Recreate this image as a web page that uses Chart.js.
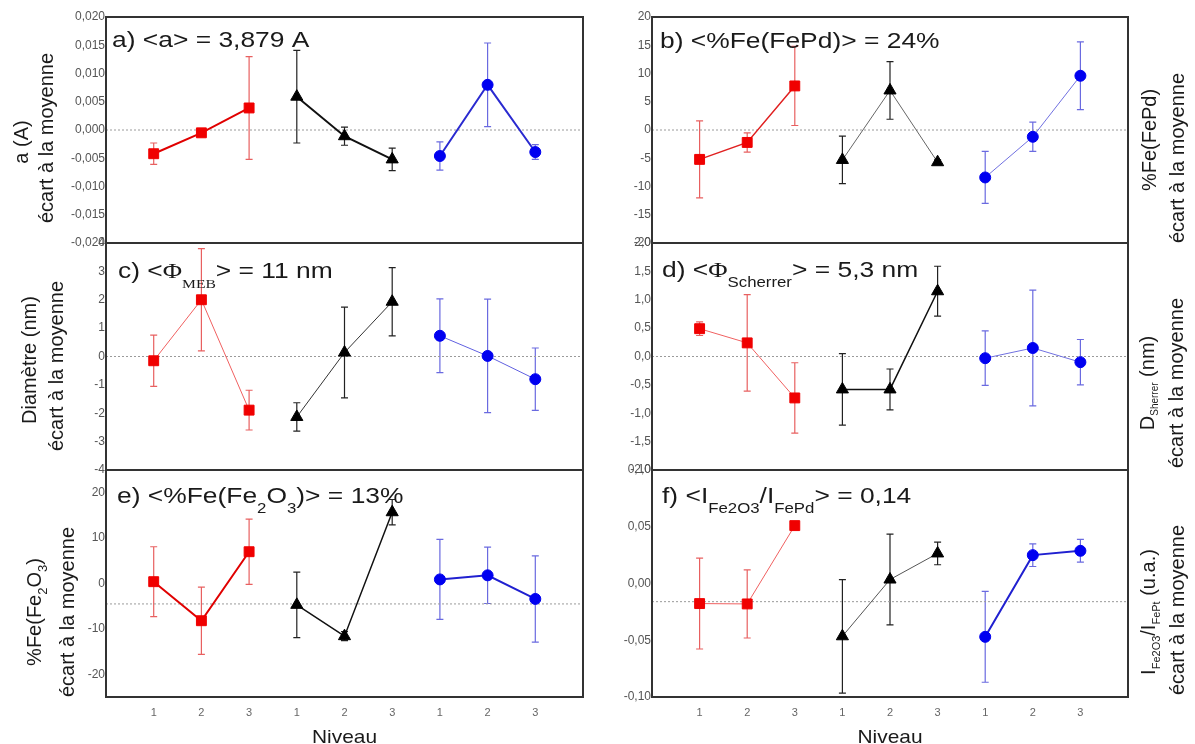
<!DOCTYPE html>
<html>
<head>
<meta charset="utf-8">
<script src="https://cdn.jsdelivr.net/npm/chart.js@4.4.0/dist/chart.umd.min.js"></script>
<style>
html, body { margin: 0; padding: 0; background: #fff; overflow: hidden; }
#wrap { position: relative; width: 1195px; height: 744px; }
#wrap canvas { position: absolute; }
</style>
</head>
<body>
<div id="wrap"></div>
<script>
// tick labels under each group
var niveaux = ['1', '2', '3'];

// a) parametre de maille, ecart a la moyenne (red, black, blue groups)
var aVal = [[-0.0042, -0.0005, 0.0039], [0.0059, -0.0011, -0.0052], [-0.0046, 0.0080, -0.0039]];
var aErr = [[0.0019, 0.0005, 0.0091], [0.0082, 0.0016, 0.0020], [0.0025, 0.0074, 0.0013]];
var aTicks = [-0.020, -0.015, -0.010, -0.005, 0, 0.005, 0.010, 0.015, 0.020];
var aRef = 0;

// b) %Fe(FePd)
var bVal = [[-5.2, -2.2, 7.8], [-5.3, 7.0, -5.7], [-8.4, -1.2, 9.6]];
var bErr = [[6.8, 1.7, 7.0], [4.2, 5.1, 0.4], [4.6, 2.6, 6.0]];
var bTicks = [-20, -15, -10, -5, 0, 5, 10, 15, 20];
var bRef = 0;

// c) diametre MEB
var cVal = [[-0.15, 2.0, -1.89], [-2.13, 0.14, 1.93], [0.73, 0.02, -0.8]];
var cErr = [[0.9, 1.8, 0.7], [0.5, 1.6, 1.2], [1.3, 2.0, 1.1]];
var cTicks = [-4, -3, -2, -1, 0, 1, 2, 3, 4];
var cRef = 0;

// d) diametre Scherrer
var dVal = [[0.49, 0.24, -0.73], [-0.58, -0.58, 1.15], [-0.03, 0.15, -0.1]];
var dErr = [[0.12, 0.85, 0.62], [0.63, 0.36, 0.44], [0.48, 1.02, 0.4]];
var dTicks = [-2.0, -1.5, -1.0, -0.5, 0, 0.5, 1.0, 1.5, 2.0];
var dRef = 0;

// e) %Fe(Fe2O3)
var eVal = [[0.4, -8.2, 7.0], [-4.7, -11.6, 15.7], [0.9, 1.8, -3.4]];
var eErr = [[7.7, 7.4, 7.2], [7.2, 1.0, 2.8], [8.8, 6.2, 9.5]];
var eTicks = [-20, -10, 0, 10, 20];
var eRange = [-25, 25];
var eRef = -4.5;

// f) I(Fe2O3)/I(FePd)
var fVal = [[-0.0177, -0.018, 0.051], [-0.0465, 0.0035, 0.0265], [-0.047, 0.025, 0.0288]];
var fErr = [[0.040, 0.030, 0], [0.050, 0.040, 0.010], [0.040, 0.010, 0.010]];
var fTicks = [-0.10, -0.05, 0, 0.05, 0.10];
var fRef = -0.016;

var SANS = '"Liberation Sans", Arial, sans-serif';
var SERIF = '"Liberation Serif", "Times New Roman", serif';
var ecart = [['écart à la moyenne', '']];

var panels = [
  { id: 'a', col: 0, row: 0, vals: aVal, errs: aErr, ticks: aTicks, range: [-0.02, 0.02], dec: 3, ref: aRef,
    lw: [2, 2, 2], lc: ['#e00000', '#111', '#2a2ad0'],
    title: [['a) <a> = 3,879 A', '']], tx: 112, ty: 47,
    ytitle: [{ segs: [['a (A)', '']], bx: 28, cy: 142 }, { segs: ecart, bx: 53, cy: 138 }] },
  { id: 'b', col: 1, row: 0, vals: bVal, errs: bErr, ticks: bTicks, range: [-20, 20], dec: 0, ref: bRef,
    lw: [1.5, 1, 1], lc: ['#e02020', '#666', '#7070e0'],
    title: [['b) <%Fe(FePd)> = 24%', '']], tx: 660, ty: 48,
    ytitle: [{ segs: [['%Fe(FePd)', '']], bx: 1156, cy: 140 }, { segs: ecart, bx: 1184, cy: 158 }] },
  { id: 'c', col: 0, row: 1, vals: cVal, errs: cErr, ticks: cTicks, range: [-4, 4], dec: 0, ref: cRef,
    lw: [1, 1, 1], lc: ['#f06060', '#333', '#6060e0'],
    title: [['c) <', ''], ['Φ', 'f'], ['MEB', 'fs'], ['> = 11 nm', '']], tx: 118, ty: 278,
    ytitle: [{ segs: [['Diamètre (nm)', '']], bx: 36, cy: 360 }, { segs: ecart, bx: 63, cy: 366 }] },
  { id: 'd', col: 1, row: 1, vals: dVal, errs: dErr, ticks: dTicks, range: [-2, 2], dec: 1, ref: dRef,
    lw: [1, 1.5, 1], lc: ['#f06060', '#111', '#7070e0'],
    title: [['d) <', ''], ['Φ', 'f'], ['Scherrer', 's'], ['> = 5,3 nm', '']], tx: 662, ty: 277,
    ytitle: [{ segs: [['D', ''], ['Sherrer', 's'], [' (nm)', '']], bx: 1154, cy: 383, sub: 10, dy: 4 },
             { segs: ecart, bx: 1183, cy: 383 }] },
  { id: 'e', col: 0, row: 2, vals: eVal, errs: eErr, ticks: eTicks, range: eRange, dec: 0, ref: eRef,
    lw: [2, 1.5, 2], lc: ['#e00000', '#111', '#2020d0'],
    title: [['e) <%Fe(Fe', ''], ['2', 's'], ['O', ''], ['3', 's'], [')> = 13%', '']], tx: 117, ty: 503,
    ytitle: [{ segs: [['%Fe(Fe', ''], ['2', 's'], ['O', ''], ['3', 's'], [')', '']], bx: 41, cy: 612, sub: 13, dy: 6 },
             { segs: ecart, bx: 74, cy: 612 }] },
  { id: 'f', col: 1, row: 2, vals: fVal, errs: fErr, ticks: fTicks, range: [-0.1, 0.1], dec: 2, ref: fRef,
    lw: [1, 1, 2], lc: ['#f06060', '#555', '#2020d0'],
    title: [['f) <I', ''], ['Fe2O3', 's'], ['/I', ''], ['FePd', 's'], ['> = 0,14', '']], tx: 662, ty: 503,
    ytitle: [{ segs: [['I', ''], ['Fe2O3', 's'], ['/I', ''], ['FePt', 's'], [' (u.a.)', '']], bx: 1155, cy: 612, sub: 11, dy: 5 },
             { segs: ecart, bx: 1184, cy: 610 }] }
];

var colL = [106, 652], colR = [583, 1128], colX = [0, 600], colW = [600, 595];
var rowT = [17, 243, 470], rowB = [243, 470, 697];
var markColor = ['#f00000', '#000000', '#0000f0'];
var barColor = ['#e86060', '#222222', '#6a6ae0'];
var markStyle = ['rect', 'triangle', 'circle'];
var markRadius = [7, 7, 5.5];

function fontFor(kind, size, sub) {
  var fam = kind.indexOf('f') >= 0 ? SERIF : SANS;
  return (kind.indexOf('s') >= 0 ? sub : size) + 'px ' + fam;
}

function drawRich(ctx, segs, x, y, o) {
  ctx.save();
  ctx.translate(x, y);
  if (o.rot) ctx.rotate(-Math.PI / 2);
  ctx.scale(o.sx || 1, 1);
  ctx.fillStyle = '#1a1a1a';
  ctx.textBaseline = 'alphabetic';
  ctx.textAlign = 'left';
  var total = 0;
  segs.forEach(function (s) {
    ctx.font = fontFor(s[1], o.size, o.sub);
    total += ctx.measureText(s[0]).width;
  });
  var cx = o.center ? -total / 2 : 0;
  segs.forEach(function (s) {
    ctx.font = fontFor(s[1], o.size, o.sub);
    ctx.fillText(s[0], cx, s[1].indexOf('s') >= 0 ? o.dy : 0);
    cx += ctx.measureText(s[0]).width;
  });
  ctx.restore();
}

function makePanel(p) {
  var left = colX[p.col], top = rowT[p.row] - 14;
  var last = p.row === 2;
  var w = colW[p.col];
  var h = last ? 744 - top : rowB[p.row] + 14 - top;
  var cv = document.createElement('canvas');
  cv.width = w; cv.height = h;
  cv.style.left = left + 'px'; cv.style.top = top + 'px';
  document.getElementById('wrap').appendChild(cv);

  var datasets = p.vals.map(function (grp, g) {
    return {
      data: grp.map(function (v, i) { return { x: g * 3 + i + 1, y: v }; }),
      borderColor: p.lc[g], borderWidth: p.lw[g],
      pointStyle: markStyle[g], pointRadius: markRadius[g],
      pointBackgroundColor: markColor[g], pointBorderColor: markColor[g], pointBorderWidth: 1
    };
  });
  datasets.push({
    data: [{ x: 0, y: p.ref }, { x: 10, y: p.ref }],
    borderColor: '#9a9a9a', borderWidth: 1, borderDash: [2, 2], pointRadius: 0
  });

  var errorBars = {
    id: 'errorBars',
    beforeDatasetsDraw: function (chart) {
      var ctx = chart.ctx, xs = chart.scales.x, ys = chart.scales.y;
      ctx.save();
      p.vals.forEach(function (grp, g) {
        ctx.strokeStyle = barColor[g];
        ctx.lineWidth = 1.2;
        grp.forEach(function (v, i) {
          var e = p.errs[g][i];
          if (!e) return;
          var px = xs.getPixelForValue(g * 3 + i + 1);
          var y1 = ys.getPixelForValue(v + e), y2 = ys.getPixelForValue(v - e);
          ctx.beginPath();
          ctx.moveTo(px, y1); ctx.lineTo(px, y2);
          ctx.moveTo(px - 3.5, y1); ctx.lineTo(px + 3.5, y1);
          ctx.moveTo(px - 3.5, y2); ctx.lineTo(px + 3.5, y2);
          ctx.stroke();
        });
      });
      ctx.restore();
    }
  };

  var decor = {
    id: 'decor',
    afterDraw: function (chart) {
      var ctx = chart.ctx, a = chart.chartArea;
      ctx.save();
      ctx.strokeStyle = '#333';
      ctx.lineWidth = 2;
      ctx.strokeRect(a.left, a.top, a.right - a.left, a.bottom - a.top);
      ctx.restore();
      drawRich(ctx, p.title, p.tx - left, p.ty - top, { size: 22, sub: p.id === 'c' ? 13 : 14, dy: 10, sx: 1.2 });
      p.ytitle.forEach(function (t) {
        drawRich(ctx, t.segs, t.bx - left, t.cy - top,
          { size: 20, sub: t.sub || 12, dy: t.dy || 5, rot: true, center: true });
      });
      if (last) {
        drawRich(ctx, [['Niveau', '']], (colL[p.col] + colR[p.col]) / 2 - left, 743 - top,
          { size: 19, sx: 1.1, center: true });
      }
    }
  };

  new Chart(cv, {
    type: 'line',
    data: { datasets: datasets },
    options: {
      responsive: false, animation: false, devicePixelRatio: 1,
      layout: { padding: { left: 0, top: 14, right: left + w - colR[p.col], bottom: last ? 0 : 14 } },
      plugins: { legend: { display: false }, tooltip: { enabled: false } },
      scales: {
        x: {
          type: 'linear', min: 0, max: 10, display: last,
          grid: { display: false, drawTicks: false }, border: { display: false },
          afterBuildTicks: function (s) {
            s.ticks = [1, 2, 3, 4, 5, 6, 7, 8, 9].map(function (v) { return { value: v }; });
          },
          afterFit: function (s) { s.height = last ? 744 - rowB[p.row] : 0; },
          ticks: {
            padding: 9, color: '#666', font: { size: 11, family: SANS }, maxRotation: 0,
            callback: function (v) { return niveaux[(v - 1) % 3]; }
          }
        },
        y: {
          type: 'linear', min: p.range[0], max: p.range[1],
          grid: { display: false, drawTicks: false }, border: { display: false },
          afterBuildTicks: function (s) {
            s.ticks = p.ticks.map(function (v) { return { value: v }; });
          },
          afterFit: function (s) { s.width = colL[p.col] - left; },
          ticks: {
            padding: 1, color: '#555', font: { size: 12, family: SANS },
            callback: function (v) { return v.toFixed(p.dec).replace('.', ','); }
          }
        }
      }
    },
    plugins: [errorBars, decor]
  });
}

panels.forEach(makePanel);
</script>
</body>
</html>
